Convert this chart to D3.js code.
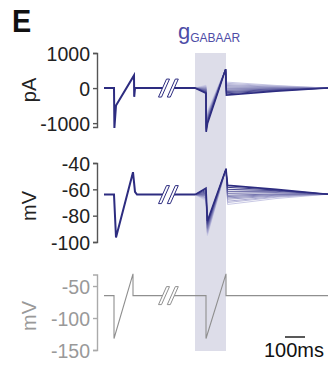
<!DOCTYPE html>
<html lang="en">
<head>
<meta charset="UTF-8"/>
<title>GABAAR traces</title>
<script src="https://d3js.org/d3.v7.min.js"></script>
<style>
    body { margin: 0; background: #fff; }
    text { font-family: "Liberation Sans", Arial, sans-serif; }
</style>
</head>
<body>
<div id="chart"></div>
<script>
// ---- data (time in ms) ----
// first event, shared by all traces, up to GABA onset
var preTimesPa = [0, 50, 52, 60, 150, 151, 155, 455];
var prePa      = [0, 0, -1140, -500, 360, -250, 0, 0];
var preTimesMv = [0, 50, 60, 145, 155, 165, 455];
var preMv      = [-64, -64, -96.5, -47, -62, -64, -64];

// command trace (grey)
var cmdTimes = [0, 50, 50, 145, 145, 510, 510, 610, 610, 1120];
var cmdMv    = [-65, -65, -132, -31, -65, -65, -132, -31, -65, -65];

// gGABAAR family, darkest first
var fanTimesPa = [455, 510, 511, 518, 608, 612, 860, 1120];
var fanBumpPa  = [-150, -130, -110, -90, -70, -50, -30, -10, 10, 30, 55, 80];
var fanDipPa   = [-1250, -1210, -1170, -1130, -1090, -1050, -1010, -970, -930, -890, -850, -800];
var fanStartPa = [-1000, -970, -940, -910, -880, -850, -820, -790, -760, -730, -700, -650];
var fanTopPa   = 540;
var fanPostPa  = [-200, -165, -130, -100, -65, -30, 0, 35, 70, 100, 135, 170];
var fanMidPa   = [-90, -75, -60, -45, -30, -15, 0, 15, 30, 45, 60, 75];
var fanEndPa   = 0;

var fanTimesMv = [455, 510, 517, 610, 618, 860, 1120];
var fanBumpMv  = [-59, -60, -61, -62, -63, -64, -64.5, -65, -66, -66.5, -67.5, -68.5];
var fanDipMv   = [-84, -85, -86, -87, -88, -89, -90, -91, -92, -93, -94, -95];
var fanTopMv   = -44.5;
var fanPostMv  = [-57, -58.5, -60, -61.5, -63, -64.5, -65.5, -66.5, -67.5, -69, -70, -71.5];
var fanMidMv   = [-60, -60.5, -61, -61.5, -62.5, -63.5, -64, -64.5, -65, -65.5, -66, -67];
var fanEndMv   = -63.7;

var ticksPa  = [1000, 0, -1000];
var ticksMv  = [-40, -60, -80, -100];
var ticksCmd = [-50, -100, -150];

var gabaWindow = [455, 610];
var breakTimes = [300, 344];
var scaleBarMs = 100;

// ---- layout ----
var W = 328, H = 367;
var dark = "#2d2c80", grey = "#8f8f8f";

var svg = d3.select("#chart").append("svg")
    .attr("width", W).attr("height", H);

var x = d3.scaleLinear().domain([0, 1120]).range([104, 328]);
var yPa  = d3.scaleLinear().domain([-1110, 1000]).range([127, 53]);
var yMv  = d3.scaleLinear().domain([-100, -40]).range([242, 163]);
var yCmd = d3.scaleLinear().domain([-150, -32]).range([350, 274.5]);

// shaded GABA window
svg.append("rect")
    .attr("x", x(gabaWindow[0]))
    .attr("width", x(gabaWindow[1]) - x(gabaWindow[0]))
    .attr("y", 53).attr("height", 298)
    .attr("fill", "#dddde9");

function axis(y, ticks, color, textColor) {
    var g = svg.append("g")
        .attr("transform", "translate(97,0)")
        .call(d3.axisLeft(y).tickValues(ticks).tickSize(4).tickPadding(3)
            .tickFormat(function(d) { return String(d); }));
    g.select(".domain").attr("stroke", color).attr("stroke-width", 1.4);
    g.selectAll(".tick line").attr("stroke", color).attr("stroke-width", 1.4);
    g.selectAll(".tick text")
        .attr("fill", textColor)
        .style("font-size", "19.5px")
        .attr("dy", "0.36em");
    return g;
}
axis(yPa, ticksPa, "#555", "#222");
axis(yMv, ticksMv, "#555", "#222");
axis(yCmd, ticksCmd, "#aaa", "#999");

function ylabel(txt, cy, color) {
    svg.append("text")
        .attr("transform", "translate(36," + cy + ") rotate(-90)")
        .attr("text-anchor", "middle")
        .attr("fill", color)
        .style("font-size", "20px")
        .text(txt);
}
ylabel("pA", 90, "#222");
ylabel("mV", 206, "#222");
ylabel("mV", 316, "#999");

var line = d3.line().x(function(d) { return x(d[0]); }).y(function(d) { return d[1]; });

function pts(times, vals, y) {
    return times.map(function(t, i) { return [t, y(vals[i])]; });
}

var fanColor = d3.scaleLinear().domain([0, fanBumpPa.length - 1])
    .range([dark, "#c9c9e5"]).interpolate(d3.interpolateRgb);

// fan lines, lightest first
var idx = d3.range(fanBumpPa.length).reverse();
idx.forEach(function(i) {
    var vPa = [0, fanBumpPa[i], fanDipPa[i], fanStartPa[i], fanTopPa, fanPostPa[i], fanMidPa[i], fanEndPa];
    svg.append("path")
        .attr("d", line(pts(fanTimesPa, vPa, yPa)))
        .attr("fill", "none").attr("stroke", fanColor(i))
        .attr("stroke-width", i === 0 ? 1.6 : 1);
    var vMv = [-64, fanBumpMv[i], fanDipMv[i], fanTopMv, fanPostMv[i], fanMidMv[i], fanEndMv];
    svg.append("path")
        .attr("d", line(pts(fanTimesMv, vMv, yMv)))
        .attr("fill", "none").attr("stroke", fanColor(i))
        .attr("stroke-width", i === 0 ? 1.6 : 1);
});

svg.append("path")
    .attr("d", line(pts(preTimesPa, prePa, yPa)))
    .attr("fill", "none").attr("stroke", dark).attr("stroke-width", 2);
svg.append("path")
    .attr("d", line(pts(preTimesMv, preMv, yMv)))
    .attr("fill", "none").attr("stroke", dark).attr("stroke-width", 2);
svg.append("path")
    .attr("d", line(pts(cmdTimes, cmdMv, yCmd)))
    .attr("fill", "none").attr("stroke", grey).attr("stroke-width", 1.1);

// axis break marks
function breakMark(cy, color) {
    var x0 = x(breakTimes[0]), x1 = x(breakTimes[1]);
    svg.append("path")
        .attr("d", "M" + (x0 - 4) + "," + (cy + 9) + "L" + (x0 + 4) + "," + (cy - 9) +
                   "L" + (x1 + 4) + "," + (cy - 9) + "L" + (x1 - 4) + "," + (cy + 9) + "Z")
        .attr("fill", "#fff");
    [x0, x1].forEach(function(cx) {
        svg.append("path")
            .attr("d", "M" + (cx - 5.5) + "," + (cy + 9) + "L" + (cx + 2.5) + "," + (cy - 9) +
                       "L" + (cx + 5.5) + "," + (cy - 9) + "L" + (cx - 2.5) + "," + (cy + 9) + "Z")
            .attr("fill", "#fff").attr("stroke", color).attr("stroke-width", 1);
    });
}
breakMark(yPa(0), dark);
breakMark(yMv(-64), dark);
breakMark(yCmd(-65), grey);

// scale bar
svg.append("line")
    .attr("x1", 305 - (x(scaleBarMs) - x(0))).attr("x2", 305)
    .attr("y1", 337).attr("y2", 337)
    .attr("stroke", "#222").attr("stroke-width", 1.5);
svg.append("text")
    .attr("x", 264).attr("y", 357)
    .attr("fill", "#111")
    .style("font-size", "20px")
    .text("100ms");

// panel letter and title
svg.append("text")
    .attr("x", 12).attr("y", 32)
    .attr("transform", "translate(12,0) scale(0.9,1) translate(-12,0)")
    .attr("fill", "#111")
    .style("font-size", "32px").style("font-weight", "bold")
    .text("E");

var title = svg.append("text")
    .attr("x", 178).attr("y", 39)
    .attr("fill", "#4e4ca6")
    .style("font-size", "22px");
title.append("tspan").text("g");
title.append("tspan").attr("dy", 3).style("font-size", "12px").text("GABAAR");
</script>
</body>
</html>
